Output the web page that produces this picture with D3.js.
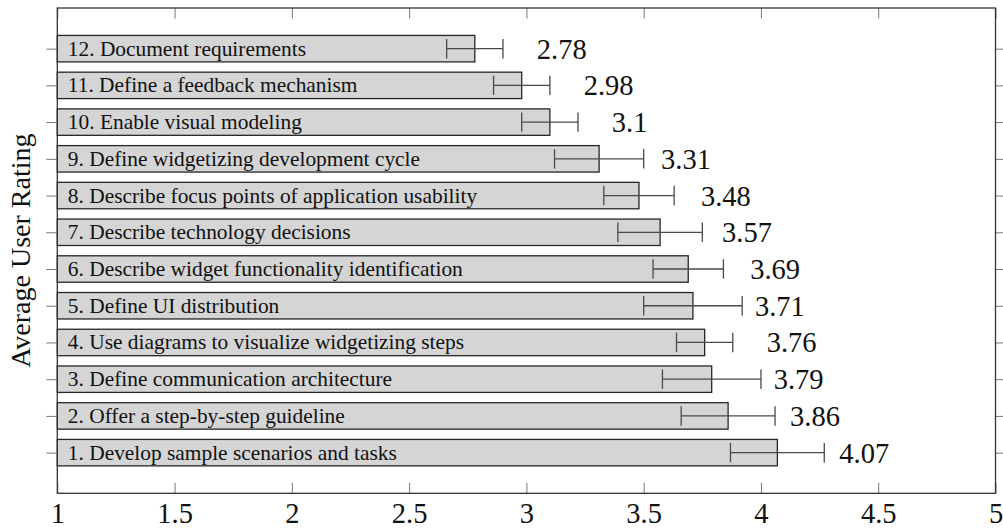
<!DOCTYPE html>
<html>
<head>
<meta charset="utf-8">
<script src="https://cdn.jsdelivr.net/npm/d3@7"></script>
<style>
  html, body { margin: 0; padding: 0; background: #fff; }
  svg { display: block; }
</style>
</head>
<body>
<svg id="chart" width="1003" height="529"></svg>
<script>
// ---- data ----
const categories = [
  "1. Develop sample scenarios and tasks",
  "2. Offer a step-by-step guideline",
  "3. Define communication architecture",
  "4. Use diagrams to visualize widgetizing steps",
  "5. Define UI distribution",
  "6. Describe widget functionality identification",
  "7. Describe technology decisions",
  "8. Describe focus points of application usability",
  "9. Define widgetizing development cycle",
  "10. Enable visual modeling",
  "11. Define a feedback mechanism",
  "12. Document requirements"
];
const ratings = [4.07, 3.86, 3.79, 3.76, 3.71, 3.69, 3.57, 3.48, 3.31, 3.1, 2.98, 2.78];
const errors  = [0.20, 0.20, 0.21, 0.12, 0.21, 0.15, 0.18, 0.15, 0.19, 0.12, 0.12, 0.12];
const xTicks = [1, 1.5, 2, 2.5, 3, 3.5, 4, 4.5, 5];
const xTickLabels = ["1", "1.5", "2", "2.5", "3", "3.5", "4", "4.5", "5"];
const yAxisTitle = "Average User Rating";

// ---- layout ----
const mLeft = 57.3, mRight = 995.5, mTop = 8, mBottom = 493.3;
const svg = d3.select("#chart");

const x = d3.scaleLinear().domain([1, 5]).range([mLeft, mRight]);
const y = d3.scaleLinear().domain([-1.107, 12.107]).range([mBottom, mTop]);
const barH = Math.abs(y(0) - y(0.72));
const capH = Math.abs(y(0) - y(0.53));

const serif = "Liberation Serif, DejaVu Serif, serif";
const data = categories.map((c, i) => ({ c, i, v: ratings[i], e: errors[i] }));

// bars
svg.append("g").selectAll("rect").data(data).join("rect")
  .attr("x", x(1))
  .attr("y", d => y(d.i) - barH / 2)
  .attr("width", d => x(d.v) - x(1))
  .attr("height", barH)
  .attr("fill", "#d5d5d5")
  .attr("stroke", "#262626")
  .attr("stroke-width", 1.3);

// error bars
const eb = svg.append("g").attr("stroke", "#4a4a4a").attr("stroke-width", 1.3).attr("fill", "none");
eb.selectAll("line.h").data(data).join("line").attr("class", "h")
  .attr("x1", d => x(d.v - d.e)).attr("x2", d => x(d.v + d.e))
  .attr("y1", d => y(d.i)).attr("y2", d => y(d.i));
eb.selectAll("line.l").data(data).join("line").attr("class", "l")
  .attr("x1", d => x(d.v - d.e)).attr("x2", d => x(d.v - d.e))
  .attr("y1", d => y(d.i) - capH / 2).attr("y2", d => y(d.i) + capH / 2);
eb.selectAll("line.r").data(data).join("line").attr("class", "r")
  .attr("x1", d => x(d.v + d.e)).attr("x2", d => x(d.v + d.e))
  .attr("y1", d => y(d.i) - capH / 2).attr("y2", d => y(d.i) + capH / 2);

// bar labels (inside)
svg.append("g").selectAll("text").data(data).join("text")
  .attr("x", x(1) + 10.5)
  .attr("y", d => y(d.i) + 7)
  .style("font-family", serif)
  .attr("font-size", 21.4)
  .attr("fill", "#111")
  .text(d => d.c);

// value labels
svg.append("g").selectAll("text").data(data).join("text")
  .attr("x", d => x(d.v) + 62)
  .attr("y", d => y(d.i) + 10)
  .style("font-family", serif)
  .attr("font-size", 28.5)
  .attr("fill", "#111")
  .text(d => String(d.v));

// axes (ticks)
const bottomAxis = d3.axisBottom(x).tickValues(xTicks).tickFormat((d, i) => xTickLabels[i]).tickSize(-10.5).tickPadding(10);
const gB = svg.append("g").attr("transform", `translate(0,${mBottom})`).call(bottomAxis);
gB.select(".domain").remove();
gB.selectAll(".tick line").attr("stroke", "#777");
gB.selectAll(".tick text").style("font-family", serif).attr("font-size", 28.5).attr("fill", "#111")
  .attr("y", 30).attr("dy", null);

const topAxis = d3.axisTop(x).tickValues(xTicks).tickFormat("").tickSize(-10.5);
const gT = svg.append("g").attr("transform", `translate(0,${mTop})`).call(topAxis);
gT.select(".domain").remove();
gT.selectAll(".tick line").attr("stroke", "#777");

const yIdx = d3.range(categories.length);
const leftAxis = d3.axisLeft(y).tickValues(yIdx).tickFormat("").tickSize(11);
const gL = svg.append("g").attr("transform", `translate(${mLeft},0)`).call(leftAxis);
gL.select(".domain").remove();
gL.selectAll(".tick line").attr("stroke", "#777");

const rightAxis = d3.axisRight(y).tickValues(yIdx).tickFormat("").tickSize(11);
const gR = svg.append("g").attr("transform", `translate(${mRight},0)`).call(rightAxis);
gR.select(".domain").remove();
gR.selectAll(".tick line").attr("stroke", "#777");

// frame
svg.append("rect")
  .attr("x", mLeft).attr("y", mTop)
  .attr("width", mRight - mLeft).attr("height", mBottom - mTop)
  .attr("fill", "none").attr("stroke", "#333").attr("stroke-width", 1.3);

// y axis title
svg.append("text")
  .attr("transform", `translate(30,${(mTop + mBottom) / 2}) rotate(-90)`)
  .attr("text-anchor", "middle")
  .style("font-family", serif)
  .attr("font-size", 28)
  .attr("fill", "#111")
  .text(yAxisTitle);
</script>
</body>
</html>
